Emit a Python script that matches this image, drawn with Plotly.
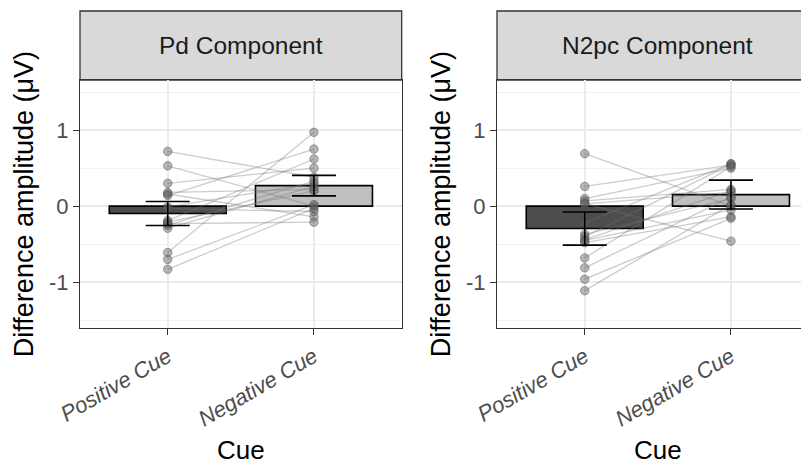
import plotly.graph_objects as go

# ---------------- data ----------------
cues = ["Positive Cue", "Negative Cue"]
cue_x = [1, 2]
panels = ["Pd Component", "N2pc Component"]

pd_positive = [0.72, 0.53, 0.30, 0.18, 0.14, 0.16, -0.01, -0.03, -0.19, -0.21, -0.23, -0.29, -0.61, -0.70, -0.83, -0.25]
pd_negative = [0.38, 0.00, 0.50, 0.22, 0.75, -0.14, 0.30, -0.07, 0.62, 0.20, -0.21, 0.26, 0.97, 0.02, -0.03, 0.33]

n2pc_positive = [0.69, 0.26, 0.10, 0.07, 0.035, 0.03, -0.22, -0.37, -0.40, -0.44, -0.48, -0.68, -0.81, -0.96, -1.11, -0.45]
n2pc_negative = [0.00, 0.54, 0.50, 0.22, -0.46, 0.18, 0.56, 0.10, 0.55, 0.20, -0.14, 0.52, 0.12, -0.16, 0.02, -0.05]

pd_means = [-0.096, 0.27]
pd_se = [0.158, 0.135]
n2pc_means = [-0.294, 0.152]
n2pc_se = [0.218, 0.19]

y_tickvals = [-1, 0, 1]
y_ticktext = ["-1", "0", "1"]
y_minor = [-1.5, -0.5, 0.5, 1.5]

# ---------------- figure ----------------
# page body has an 8px default margin; figure is sized to fill the rest of the window
OFF = 8
W, H = 809 - OFF, 465 - OFF
FONT = "Liberation Sans, Arial, Helvetica, sans-serif"
bar_colors = ["#4D4D4D", "#BFBFBF"]


def fx(px):
    return (px - OFF) / W


def fy(px):
    return 1 - (px - OFF) / H


fig = go.Figure()


def add_panel(xa, ya, pos, neg, means, se):
    fig.add_trace(go.Bar(x=cue_x, y=means, width=0.8, xaxis=xa, yaxis=ya,
                         marker=dict(color=bar_colors, line=dict(color="black", width=1.6)),
                         showlegend=False, hoverinfo="skip"))
    for a, b in zip(pos, neg):
        fig.add_trace(go.Scatter(x=cue_x, y=[a, b], mode="lines", xaxis=xa, yaxis=ya,
                                 line=dict(color="rgba(115,115,115,0.36)", width=1.3),
                                 showlegend=False, hoverinfo="skip"))
    fig.add_trace(go.Scatter(x=[1] * len(pos) + [2] * len(neg), y=list(pos) + list(neg),
                             mode="markers", xaxis=xa, yaxis=ya,
                             marker=dict(size=8.5, color="rgba(95,95,95,0.45)",
                                         line=dict(color="rgba(70,70,70,0.45)", width=1)),
                             showlegend=False, hoverinfo="skip"))
    fig.add_trace(go.Scatter(x=cue_x, y=means, mode="markers", xaxis=xa, yaxis=ya,
                             marker=dict(size=1, color="rgba(0,0,0,0)"),
                             error_y=dict(type="data", array=se, visible=True,
                                          color="black", thickness=1.6, width=22),
                             showlegend=False, hoverinfo="skip"))


add_panel("x", "y", pd_positive, pd_negative, pd_means, pd_se)
add_panel("x2", "y2", n2pc_positive, n2pc_negative, n2pc_means, n2pc_se)

p1_l, p1_r = 80, 401.7
p2_l = 497
px_per_unit = (p1_r - p1_l) / 2.2
p2_r_val = 0.4 + (809 - p2_l) / px_per_unit
top_px, bot_px = 80, 328.3
yrange = [-1.605, 1.658]

common_x = dict(tickvals=cue_x, ticktext=cues, tickangle=-30, automargin=False,
                tickfont=dict(family=FONT, size=22, color="#4D4D4D", style="italic"),
                showgrid=True, gridcolor="#EBEBEB", gridwidth=1.5,
                showline=True, linecolor="#333333", linewidth=1.3, mirror=True,
                ticks="outside", ticklen=6, tickcolor="#333333", tickwidth=1.3,
                zeroline=False, fixedrange=True)
common_y = dict(domain=[fy(bot_px), fy(top_px)], range=yrange, automargin=False,
                tickvals=y_tickvals, ticktext=y_ticktext,
                tickfont=dict(family=FONT, size=22, color="#4D4D4D"),
                showgrid=True, gridcolor="#EBEBEB", gridwidth=1.5,
                minor=dict(tickvals=y_minor, showgrid=True, gridcolor="#F1F1F1", gridwidth=1, ticks=""),
                showline=True, linecolor="#333333", linewidth=1.3,
                ticks="outside", ticklen=6, tickcolor="#333333", tickwidth=1.3,
                zeroline=False, fixedrange=True)

fig.update_layout(
    width=W, height=H, autosize=False,
    margin=dict(l=0, r=0, t=0, b=0, pad=0),
    paper_bgcolor="white", plot_bgcolor="white",
    barmode="overlay",
    font=dict(family=FONT),
    xaxis=dict(domain=[fx(p1_l), fx(p1_r)], range=[0.4, 2.6], anchor="y", **common_x),
    xaxis2=dict(domain=[fx(p2_l), 1.0], range=[0.4, p2_r_val], anchor="y2", **common_x),
    yaxis=dict(anchor="x", mirror=True, **common_y),
    yaxis2=dict(anchor="x2", mirror=False, **common_y),
)

# strips, axis titles
strip_top = 11
for (l, r), label in zip([(p1_l, p1_r), (p2_l, p2_l + (p1_r - p1_l))], panels):
    fig.add_shape(type="rect", xref="paper", yref="paper",
                  x0=fx(l), x1=fx(r), y0=fy(top_px), y1=fy(strip_top),
                  fillcolor="#D9D9D9", line=dict(color="#333333", width=1.3), layer="below")
    fig.add_annotation(text=label, xref="paper", yref="paper", x=fx((l + r) / 2),
                       y=fy((strip_top + top_px) / 2), showarrow=False,
                       xanchor="center", yanchor="middle",
                       font=dict(family=FONT, size=24.5, color="#1A1A1A"))
    fig.add_annotation(text="Cue", xref="paper", yref="paper", x=fx((l + r) / 2),
                       y=fy(450), showarrow=False, xanchor="center", yanchor="middle",
                       font=dict(family=FONT, size=26, color="black"))
    fig.add_annotation(text="Difference amplitude (μV)", xref="paper", yref="paper",
                       x=fx(l - 56), y=fy((top_px + bot_px) / 2), showarrow=False,
                       textangle=-90, xanchor="center", yanchor="middle",
                       font=dict(family=FONT, size=27, color="black"))

fig.write_html("out.html")
